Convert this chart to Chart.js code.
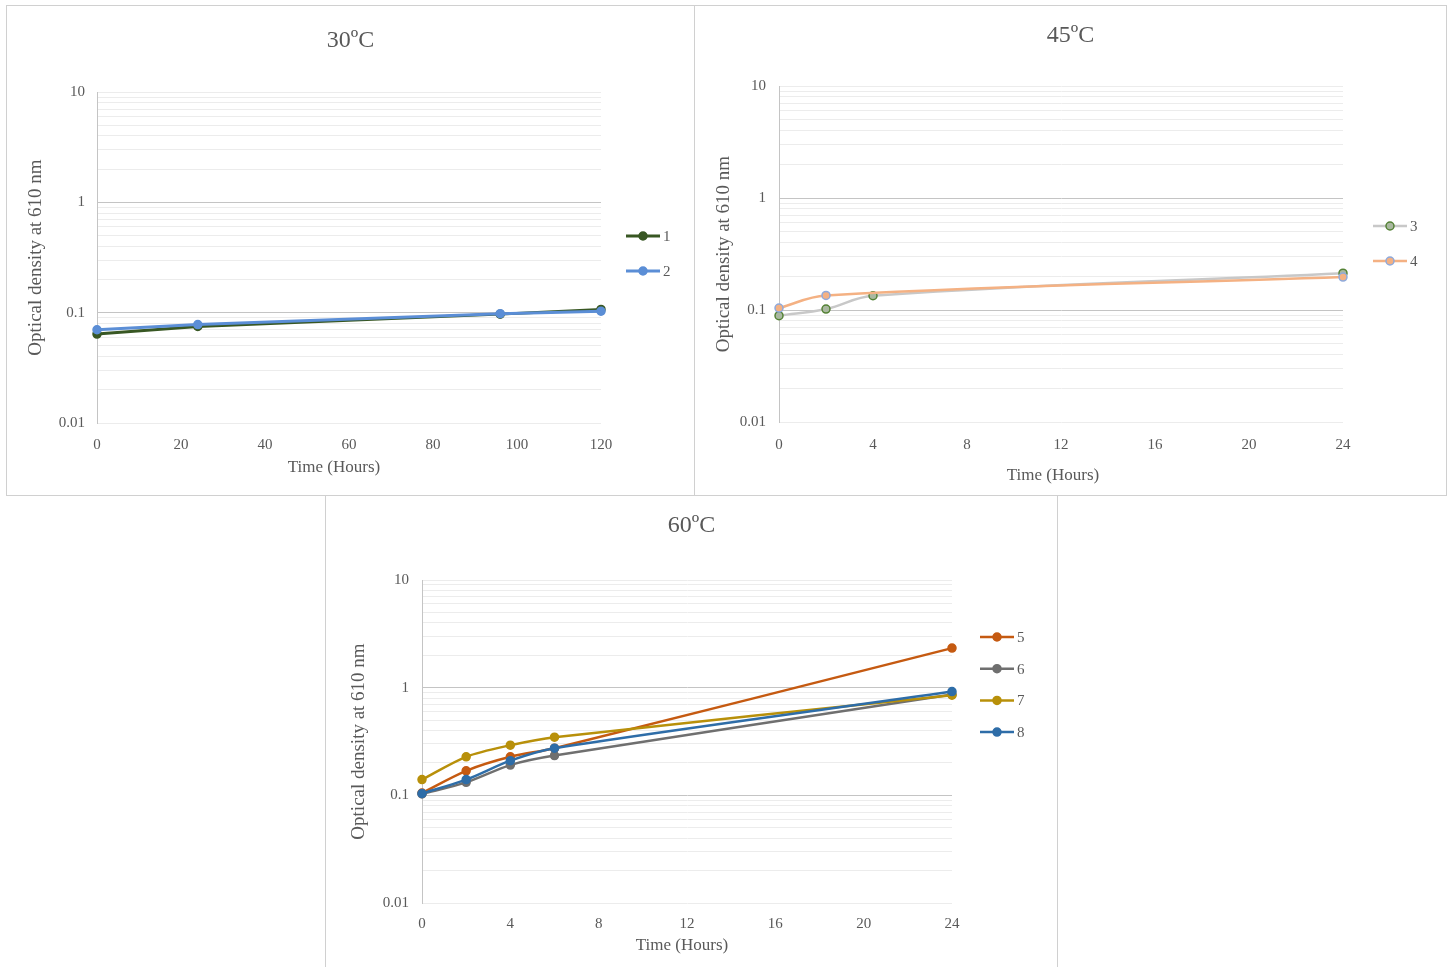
<!DOCTYPE html>
<html>
<head>
<meta charset="utf-8">
<script src="https://cdn.jsdelivr.net/npm/chart.js@4.4.1/dist/chart.umd.min.js"></script>
<style>
  body { margin: 0; background: #fff; overflow: hidden; }
  canvas { position: absolute; outline: 1px solid #d0d0d0; outline-offset: -1px; }
</style>
</head>
<body>
<canvas id="c30" width="689" height="491" style="left:6px;top:5px"></canvas>
<canvas id="c45" width="753" height="491" style="left:694px;top:5px"></canvas>
<canvas id="c60" width="733" height="480" style="left:325px;top:495px"></canvas>
<script>
// ---- data ----
const hours30 = [0, 24, 96, 120];
const od1 = [0.064, 0.075, 0.097, 0.107];
const od2 = [0.070, 0.078, 0.098, 0.103];

const hours45a = [0, 2, 4, 24];
const od3 = [0.089, 0.102, 0.134, 0.213];
const hours45b = [0, 2, 24];
const od4 = [0.104, 0.135, 0.197];

const hours60 = [0, 2, 4, 6, 24];
const od5 = [0.105, 0.169, 0.228, 0.274, 2.33];
const od6 = [0.103, 0.132, 0.191, 0.234, 0.865];
const od7 = [0.140, 0.228, 0.292, 0.347, 0.85];
const od8 = [0.104, 0.140, 0.210, 0.274, 0.92];

const yDecades = [0.01, 0.1, 1, 10];
const yMinorSteps = [1, 2, 3, 4, 5, 6, 7, 8, 9];

const FONT = "'Liberation Serif', 'Times New Roman', serif";
const TXT = '#595959';

function pts(xs, ys) { return xs.map((x, i) => ({x: x, y: ys[i]})); }
function isDecade(v) { return Math.abs(Math.log10(v) - Math.round(Math.log10(v))) < 1e-6; }

// panel title, x axis title and Excel style legend (line + marker + label)
const excelBits = {
  id: 'excelBits',
  afterDraw(chart, args, o) {
    const ctx = chart.ctx;
    ctx.save();
    ctx.fillStyle = TXT;
    ctx.textAlign = 'center';
    ctx.textBaseline = 'middle';
    ctx.font = '24px ' + FONT;
    ctx.fillText(o.title, chart.width / 2, o.titleY);
    ctx.font = '17px ' + FONT;
    ctx.fillText('Time (Hours)', o.xTitleX, o.xTitleY);
    ctx.textAlign = 'left';
    chart.data.datasets.forEach((ds, i) => {
      const y = o.y + i * o.gap;
      ctx.strokeStyle = ds.borderColor;
      ctx.lineWidth = ds.borderWidth;
      ctx.beginPath();
      ctx.moveTo(o.x, y);
      ctx.lineTo(o.x + o.len, y);
      ctx.stroke();
      ctx.beginPath();
      ctx.arc(o.x + o.len / 2, y, ds.pointRadius, 0, Math.PI * 2);
      ctx.fillStyle = ds.pointBackgroundColor;
      ctx.fill();
      ctx.lineWidth = ds.pointBorderWidth;
      ctx.strokeStyle = ds.pointBorderColor;
      ctx.stroke();
      ctx.fillStyle = TXT;
      ctx.font = '15px ' + FONT;
      ctx.fillText(ds.label, o.x + o.len + 3, y + 1);
    });
    ctx.restore();
  }
};

function makeChart(id, g, datasets, xMax, xStep, title) {
  const cv = document.getElementById(id);
  const W = cv.width, H = cv.height;
  const ayTitle = 19;
  return new Chart(cv, {
    type: 'line',
    data: {datasets: datasets},
    plugins: [excelBits],
    options: {
      responsive: false,
      animation: false,
      layout: {padding: {left: 0, top: g.top, right: W - g.right, bottom: 0}},
      plugins: {
        legend: {display: false},
        tooltip: {enabled: false},
        title: {display: false},
        excelBits: Object.assign({title: title, titleY: g.titleY, xTitleX: g.xTitleX, xTitleY: g.xTitleY}, g.legend)
      },
      scales: {
        x: {
          type: 'linear', min: 0, max: xMax,
          afterFit: s => { s.height = H - g.bottom; },
          grid: {display: false},
          border: {display: false},
          ticks: {stepSize: xStep, padding: g.xTickPad, color: TXT, font: {family: FONT, size: 15}}
        },
        y: {
          type: 'logarithmic', min: 0.01, max: 10,
          afterFit: s => { s.width = g.left; },
          afterBuildTicks: s => {
            const t = [];
            yDecades.forEach(d => {
              if (d === 10) { t.push({value: 10, major: true}); return; }
              yMinorSteps.forEach(k => t.push({value: +(d * k).toPrecision(3), major: k === 1}));
            });
            s.ticks = t;
          },
          grid: {
            drawTicks: false,
            lineWidth: 1,
            color: c => (c.tick && (c.tick.value === 1 || c.tick.value === 0.1)) ? '#c4c4c4' : '#ececec'
          },
          border: {display: true, color: '#c4c4c4'},
          ticks: {
            autoSkip: false, padding: g.yTickPad, color: TXT,
            font: {family: FONT, size: 15},
            callback: v => isDecade(v) ? String(+v.toPrecision(1)) : ''
          },
          title: {
            display: true, text: 'Optical density at 610 nm', color: TXT,
            font: {family: FONT, size: ayTitle},
            padding: {top: g.yTitleX - ayTitle * 1.2 / 2, bottom: 0}
          }
        }
      }
    }
  });
}

function series(label, xs, ys, line, fill, border, tension, order, width) {
  return {
    label: label, data: pts(xs, ys),
    borderColor: line, borderWidth: width || 2.5,
    pointRadius: 4, pointBorderWidth: 1.5,
    pointBackgroundColor: fill, pointBorderColor: border,
    tension: tension, clip: false, order: order
  };
}

makeChart('c30',
  {left: 91, right: 595, top: 87, bottom: 418, titleY: 36, xTickPad: 5, yTickPad: 12,
   yTitleX: 30, xTitleX: 328, xTitleY: 463, legend: {x: 620, y: 231, gap: 35, len: 34}},
  [
    series('1', hours30, od1, '#385723', '#385723', '#385723', 0, 2, 3),
    series('2', hours30, od2, '#5b8ed6', '#5b8ed6', '#5b8ed6', 0, 1, 3)
  ], 120, 20, '30ºC');

makeChart('c45',
  {left: 85, right: 649, top: 81, bottom: 417, titleY: 31, xTickPad: 6, yTickPad: 13,
   yTitleX: 30, xTitleX: 359, xTitleY: 471, legend: {x: 679, y: 221, gap: 35, len: 34}},
  [
    series('3', hours45a, od3, '#c8c8c8', '#a9b8a0', '#548235', 0.4, 2),
    series('4', hours45b, od4, '#f4b183', '#f4b183', '#8faadc', 0.4, 1)
  ], 24, 4, '45ºC');

makeChart('c60',
  {left: 97, right: 627, top: 85, bottom: 408, titleY: 31, xTickPad: 4, yTickPad: 13,
   yTitleX: 34, xTitleX: 357, xTitleY: 451, legend: {x: 655, y: 142, gap: 31.7, len: 34}},
  [
    series('5', hours60, od5, '#c55a11', '#c55a11', '#c55a11', 0.3, 4),
    series('6', hours60, od6, '#6f6f6f', '#6f6f6f', '#6f6f6f', 0.3, 3),
    series('7', hours60, od7, '#b8900a', '#b8900a', '#b8900a', 0.3, 2),
    series('8', hours60, od8, '#2e6da8', '#2e6da8', '#2e6da8', 0.3, 1)
  ], 24, 4, '60ºC');
</script>
</body>
</html>
